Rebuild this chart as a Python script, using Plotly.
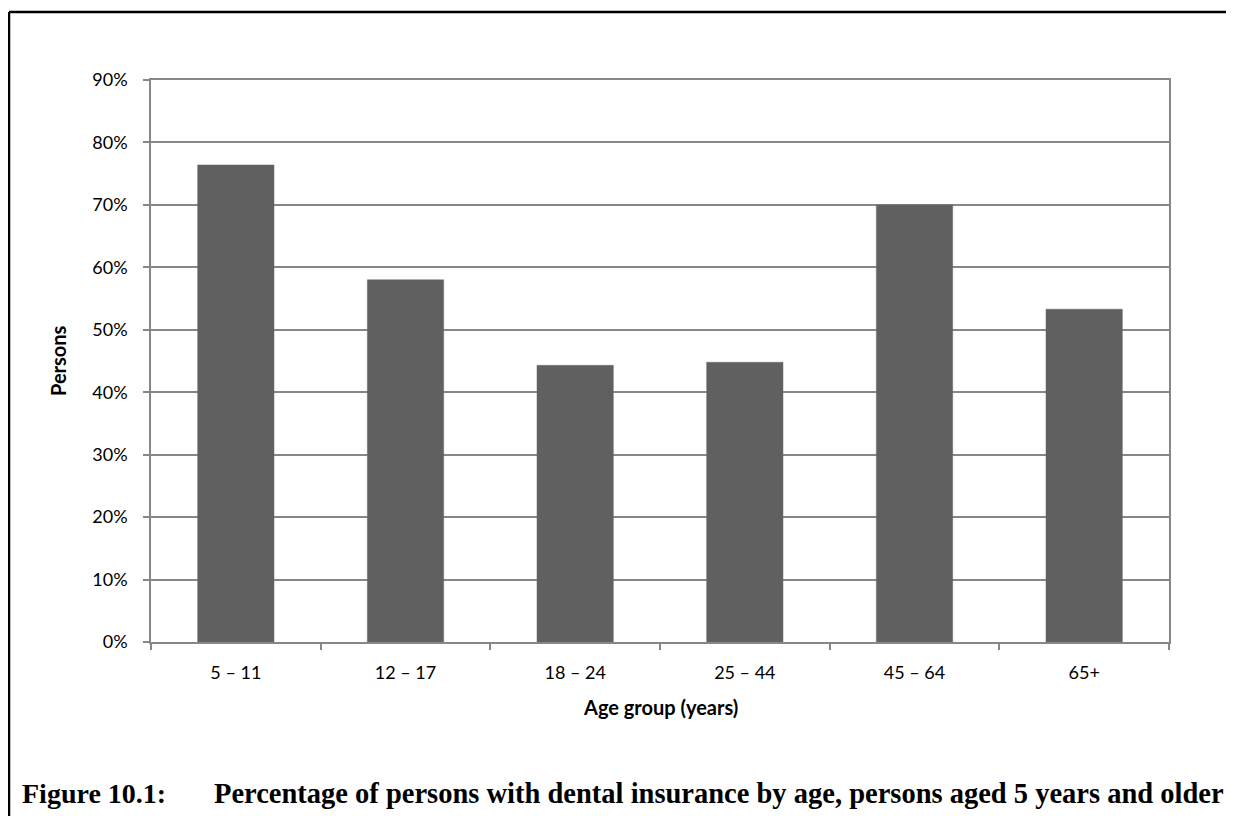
import plotly.graph_objects as go

categories = ["5 – 11", "12 – 17", "18 – 24", "25 – 44", "45 – 64", "65+"]
values = [76.4, 58.0, 44.3, 44.8, 70.0, 53.3]
y_ticks = [0, 10, 20, 30, 40, 50, 60, 70, 80, 90]
y_tick_labels = [f"{v}%" for v in y_ticks]

OFF = 8  # default page body margin
W, H = 1234 - OFF, 816 - OFF
L, R, T, B = 151 - OFF, 1169 - OFF, 80 - OFF, 642 - OFF
pw, ph = R - L, B - T


def px(x):
    return (x - OFF - L) / pw


def py(y):
    return (B - (y - OFF)) / ph


sans = "Lato, Carlito, Calibri, sans-serif"
serif = "Liberation Serif, Times New Roman, serif"
grid = "#878787"

fig = go.Figure(go.Bar(
    x=categories, y=values,
    marker=dict(color="#606060", line=dict(color="#6a6a6a", width=0.5)),
    width=0.45,
))

fig.update_layout(
    width=W, height=H,
    margin=dict(l=L, r=W - R, t=T, b=H - B),
    paper_bgcolor="white", plot_bgcolor="white",
    showlegend=False,
    font=dict(family=sans, size=18, color="#000000"),
    xaxis=dict(
        showline=True, linecolor=grid, linewidth=1.5, mirror=True,
        ticks="outside", tickson="boundaries", ticklen=6, tickcolor=grid, tickwidth=1.5,
        showgrid=False, ticklabelstandoff=14,
        tickfont=dict(family=sans, size=18),
    ),
    yaxis=dict(
        range=[0, 90], tickvals=y_ticks, ticktext=y_tick_labels,
        showline=True, linecolor=grid, linewidth=1.5, mirror=True,
        ticks="outside", ticklen=6, tickcolor=grid, tickwidth=1.5,
        showgrid=True, gridcolor=grid, gridwidth=1.5, zeroline=False,
        ticklabelstandoff=12,
        tickfont=dict(family=sans, size=18),
    ),
    annotations=[
        dict(text="<b>Persons</b>", x=px(58), y=py(361), xref="paper", yref="paper",
             textangle=-90, showarrow=False, xanchor="center", yanchor="middle",
             font=dict(family=sans, size=20)),
        dict(text="<b>Age group (years)</b>", x=px(660), y=py(707), xref="paper", yref="paper",
             showarrow=False, xanchor="center", yanchor="middle",
             font=dict(family=sans, size=20)),
        dict(text="<b>Figure 10.1:</b>", x=px(20), y=py(793), xref="paper", yref="paper",
             showarrow=False, xanchor="left", yanchor="middle",
             font=dict(family=serif, size=28)),
        dict(text="<b>Percentage of persons with dental insurance by age, persons aged 5 years and older</b>",
             x=px(212), y=py(793), xref="paper", yref="paper",
             showarrow=False, xanchor="left", yanchor="middle",
             font=dict(family=serif, size=28.5)),
    ],
    shapes=[
        dict(type="line", xref="paper", yref="paper", x0=px(9), x1=px(1240), y0=py(12), y1=py(12),
             line=dict(color="black", width=2.5)),
        dict(type="line", xref="paper", yref="paper", x0=px(9), x1=px(9), y0=py(12), y1=py(830),
             line=dict(color="black", width=2.5)),
    ],
)

fig.write_html("out.html")
